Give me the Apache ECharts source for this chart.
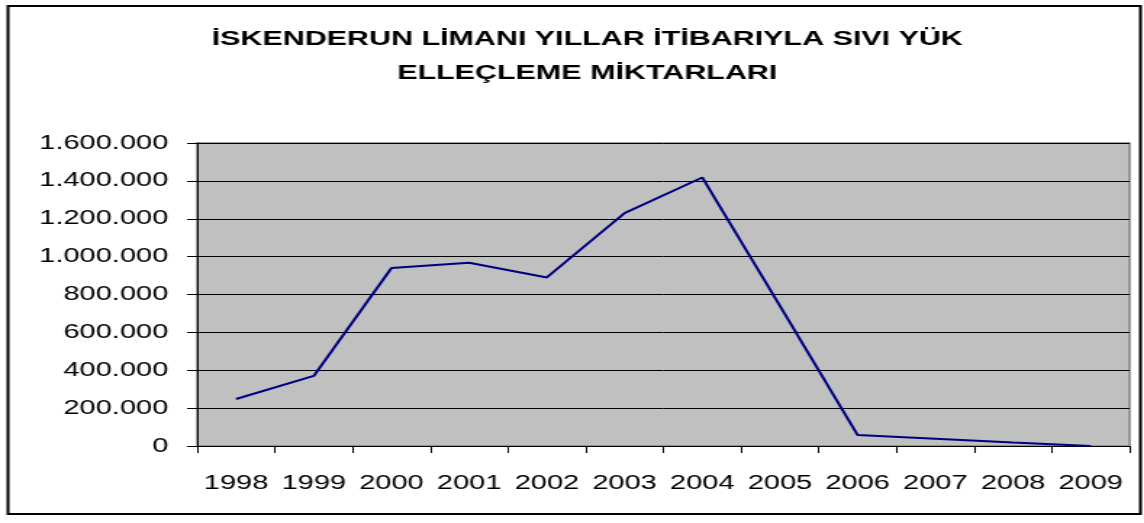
<!DOCTYPE html>
<html>
<head>
<meta charset="utf-8">
<script src="https://cdn.jsdelivr.net/npm/echarts@6/dist/echarts.min.js"></script>
<style>
  html, body { margin: 0; padding: 0; background: #fff; overflow: hidden; }
  /* the original chart is a stretched picture, so draw narrow and widen it */
  #main { width: 789px; height: 523px; transform: scaleX(1.45); transform-origin: 0 0; }
</style>
</head>
<body>
<div id="main"></div>
<script>
// yillar ve sivi yuk elleclemesi (ton)
var years = ['1998', '1999', '2000', '2001', '2002', '2003', '2004', '2005', '2006', '2007', '2008', '2009'];
var tonnage = [248000, 370000, 940000, 968000, 890000, 1230000, 1418000, 740000, 58000, 38000, 18000, 0];
var titleText = 'İSKENDERUN LİMANI YILLAR İTİBARIYLA SIVI YÜK\nELLEÇLEME MİKTARLARI';

var chart = echarts.init(document.getElementById('main'), null, { renderer: 'canvas' });

function dotted(v) {
    return String(v).replace(/\B(?=(\d{3})+(?!\d))/g, '.');
}

var option = {
    backgroundColor: '#fff',
    animation: false,
    title: {
        text: titleText,
        left: 400,
        top: 17,
        textAlign: 'center',
        textStyle: {
            fontFamily: 'Liberation Sans',
            fontWeight: 'bold',
            fontSize: 21,
            lineHeight: 34,
            color: '#000'
        }
    },
    graphic: [{
        type: 'rect',
        shape: { x: 5.5, y: 6, width: 781, height: 508 },
        style: { fill: 'none', stroke: '#000', lineWidth: 2 },
        silent: true
    }],
    grid: {
        left: 136,
        right: 10,
        top: 143,
        bottom: 77,
        show: true,
        backgroundColor: '#c0c0c0',
        borderColor: '#808080',
        borderWidth: 1.5
    },
    xAxis: {
        type: 'category',
        data: years,
        boundaryGap: true,
        axisLine: { lineStyle: { color: '#000', width: 1 } },
        axisTick: { show: true, interval: 0, alignWithLabel: false, length: 7, lineStyle: { color: '#000' } },
        axisLabel: {
            interval: 0,
            hideOverlap: false,
            color: '#000',
            fontFamily: 'Liberation Sans',
            fontSize: 20,
            margin: 27
        }
    },
    yAxis: {
        type: 'value',
        min: 0,
        max: 1600000,
        interval: 200000,
        axisLine: { show: true, lineStyle: { color: '#000', width: 1 } },
        axisTick: { show: true, length: 7, lineStyle: { color: '#000' } },
        splitLine: { show: true, lineStyle: { color: '#000', width: 1 } },
        axisLabel: {
            color: '#000',
            fontFamily: 'Liberation Sans',
            fontSize: 20,
            margin: 20,
            formatter: dotted
        }
    },
    series: [{
        name: 'Sıvı yük',
        type: 'line',
        data: tonnage,
        symbol: 'none',
        lineStyle: { color: '#000080', width: 2 }
    }]
};

chart.setOption(option);
window.addEventListener('resize', chart.resize);
</script>
</body>
</html>
